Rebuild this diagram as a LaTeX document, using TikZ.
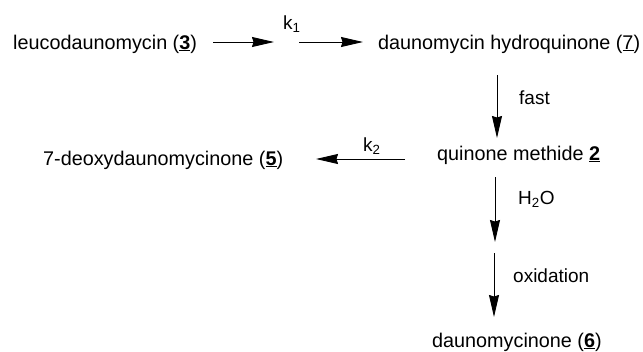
\documentclass[tikz,border=0pt]{standalone}
\usepackage{fontspec}
\setmainfont{Liberation Sans}
\usetikzlibrary{arrows.meta}
\tikzset{
  chem/.style={anchor=base west, inner sep=0pt, font=\fontsize{19.8}{22}\selectfont},
  cond/.style={anchor=base west, inner sep=0pt, font=\fontsize{19}{22}\selectfont},
  rxn/.style={line width=0.9pt, -{Stealth[length=22pt,width=10pt,inset=1.5pt]}},
}
\newcommand{\cpd}[1]{\underline{\textbf{#1}}}
\begin{document}
\begin{tikzpicture}[x=1pt,y=-1pt]
  \useasboundingbox (0,0) rectangle (643,351);

  % compounds
  \node[chem] (leuco) at (13,49)  {leucodaunomycin (\cpd{3})};
  \node[chem] (hq)    at (378,49) {daunomycin hydroquinone (\underline{7})};
  \node[chem] (qm)    at (437,160) {quinone methide \cpd{2}};
  \node[chem] (deoxy) at (43,165) {7-deoxydaunomycinone (\cpd{5})};
  \node[chem] (dnone) at (432,347) {daunomycinone (\cpd{6})};

  % rate constants and conditions
  \node[cond] (k1)   at (283,29)  {k\textsubscript{1}};
  \node[cond] (k2)   at (363,151) {k\textsubscript{2}};
  \node[cond] (fast) at (519,104) {fast};
  \node[cond] (water) at (518,204) {H\textsubscript{2}O};
  \node[cond] (ox)   at (513,282) {oxidation};

  % arrow end points
  \coordinate (a1s) at (213,42);
  \coordinate (a1e) at (274,42);
  \coordinate (a2s) at (299,42);
  \coordinate (a2e) at (363,42);
  \coordinate (v1s) at (497,75);
  \coordinate (v1e) at (497,138);
  \coordinate (h2s) at (405,159);
  \coordinate (h2e) at (316,159);
  \coordinate (v2s) at (495,177);
  \coordinate (v2e) at (495,242);
  \coordinate (v3s) at (494,253);
  \coordinate (v3e) at (494,317);

  % reaction arrows
  \draw[rxn] (a1s) -- (a1e);
  \draw[rxn] (a2s) -- (a2e);
  \draw[rxn] (v1s) -- (v1e);
  \draw[rxn] (h2s) -- (h2e);
  \draw[rxn] (v2s) -- (v2e);
  \draw[rxn] (v3s) -- (v3e);
\end{tikzpicture}
\end{document}
